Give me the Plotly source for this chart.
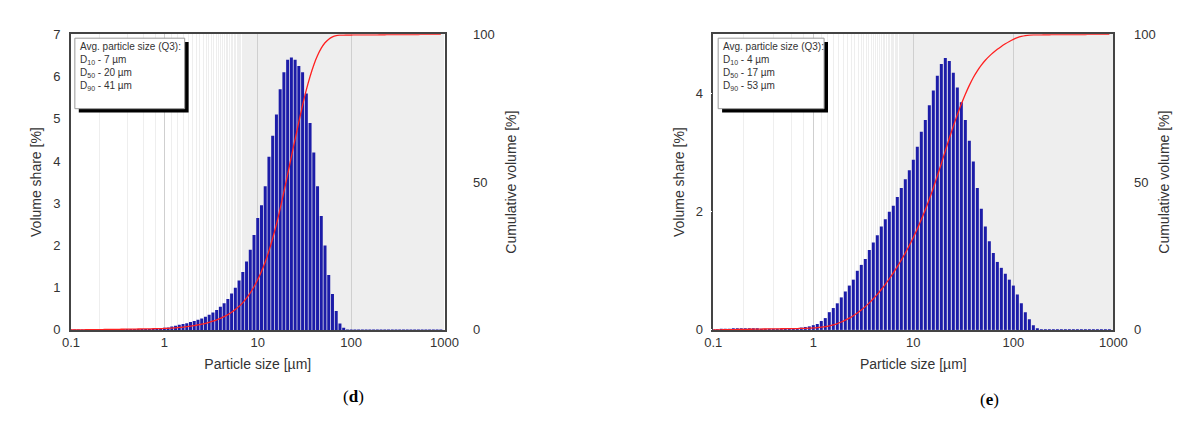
import numpy as np
import plotly.graph_objects as go

# bin centres: 25 bins per decade, 0.1 .. 1000 um
bin_exp = np.arange(100) / 25.0 - 1.0
sizes = 10 ** bin_exp

# (d) volume share per bin [%]
share_d = [
    0.01, 0.01, 0.01, 0.01, 0.01, 0.02, 0.02, 0.02, 0.02, 0.02, 0.02, 0.02, 0.02,
    0.02, 0.02, 0.02, 0.02, 0.02, 0.02, 0.02, 0.02, 0.02, 0.03, 0.03, 0.03,
    0.05, 0.06, 0.08, 0.10, 0.12, 0.14, 0.16, 0.19, 0.21, 0.24, 0.27, 0.31, 0.36,
    0.41, 0.47, 0.55, 0.63, 0.73, 0.86, 1.00, 1.17, 1.37, 1.62, 1.90, 2.25,
    2.65, 2.95, 3.40, 4.10, 4.60, 5.10, 5.70, 6.10, 6.40, 6.45, 6.40, 6.25, 6.10,
    5.60, 4.90, 4.20, 3.40, 2.70, 2.00, 1.30, 0.85, 0.45, 0.15, 0.05, 0.01,
] + [0.01] * 25

# (e) volume share per bin [%]
share_e = [
    0.01, 0.01, 0.02, 0.02, 0.02, 0.03, 0.03, 0.03, 0.03, 0.03, 0.03, 0.03, 0.02,
    0.02, 0.02, 0.02, 0.02, 0.02, 0.02, 0.02, 0.02, 0.03, 0.04, 0.05, 0.06,
    0.08, 0.10, 0.15, 0.20, 0.30, 0.37, 0.45, 0.55, 0.65, 0.75, 0.85, 1.00, 1.10,
    1.20, 1.35, 1.48, 1.60, 1.75, 1.87, 2.00, 2.10, 2.25, 2.40, 2.55, 2.70,
    2.88, 3.10, 3.35, 3.55, 3.80, 4.05, 4.30, 4.50, 4.60, 4.55, 4.35, 4.10, 3.85,
    3.55, 3.20, 2.85, 2.40, 2.05, 1.75, 1.50, 1.30, 1.15, 1.05, 0.95, 0.85,
    0.75, 0.60, 0.45, 0.30, 0.18, 0.08, 0.03,
] + [0.01] * 18

legend_d = "Avg. particle size (Q3):<br>D<sub>10</sub> - 7 µm<br>D<sub>50</sub> - 20 µm<br>D<sub>90</sub> - 41 µm"
legend_e = "Avg. particle size (Q3):<br>D<sub>10</sub> - 4 µm<br>D<sub>50</sub> - 17 µm<br>D<sub>90</sub> - 53 µm"

FONT = "Liberation Sans, Arial, sans-serif"
BAR_COLOR = "#1c1ca8"
W, H = 1189, 441
y_dom = [1 - 326 / H, 1 - 20 / H]


def px(v):
    return v / W


def bar_trace(share, xa, ya):
    xs, ys = [], []
    for x, v in zip(sizes, share):
        xs += [x, x, None]
        ys += [0, v, None]
    return go.Scatter(x=xs, y=ys, mode="lines", line=dict(color=BAR_COLOR, width=3),
                      xaxis=xa, yaxis=ya, showlegend=False, hoverinfo="skip")


def cum_trace(share, xa, ya):
    c = np.cumsum(share)
    c = 100 * c / c[-1]
    return go.Scatter(x=sizes, y=c, mode="lines", line=dict(color="#ff2020", width=1.3, shape="spline"),
                      xaxis=xa, yaxis=ya, showlegend=False)


fig = go.Figure([
    bar_trace(share_d, "x", "y"), cum_trace(share_d, "x", "y2"),
    bar_trace(share_e, "x3", "y3"), cum_trace(share_e, "x3", "y4"),
])

xcommon = dict(type="log", range=[-1, 3], tickvals=[0.1, 1, 10, 100, 1000],
               ticktext=["0.1", "1", "10", "100", "1000"], showgrid=True,
               gridcolor="#cfcfcf", gridwidth=1, ticks="", showline=True,
               linecolor="#444", linewidth=1.5, mirror=True, zeroline=False,
               minor=dict(showgrid=True, gridcolor="#eeeeee", gridwidth=1, ticks=""),
               title=dict(text="Particle size [µm]", font=dict(size=14), standoff=10),
               tickfont=dict(size=13))
ycommon = dict(showgrid=False, zeroline=False, ticks="outside", ticklen=6, tickcolor="white",
               showline=True, linecolor="#444", linewidth=1.5, mirror=True,
               tickfont=dict(size=13), title=dict(font=dict(size=14), standoff=8))
y2common = dict(range=[0, 100], tickvals=[0, 50, 100], showgrid=False, zeroline=False,
                ticks="", showline=False, tickfont=dict(size=13), side="right",
                anchor="free", title=dict(font=dict(size=14), standoff=12))

fig.update_layout(
    width=W, height=H, margin=dict(l=0, r=0, t=0, b=0),
    paper_bgcolor="white", plot_bgcolor="white",
    font=dict(family=FONT, color="#333"),
    xaxis=dict(xcommon, domain=[px(55), px(436)], anchor="y"),
    yaxis=dict(ycommon, domain=y_dom, range=[0, 7], dtick=1, anchor="x",
               title=dict(ycommon["title"], text="Volume share [%]")),
    yaxis2=dict(y2common, overlaying="y", position=px(464),
                title=dict(y2common["title"], text="Cumulative volume [%]")),
    xaxis3=dict(xcommon, domain=[px(710), px(1118)], anchor="y3"),
    yaxis3=dict(ycommon, domain=y_dom, range=[0, 5], tickvals=[0, 2, 4], anchor="x3",
                title=dict(ycommon["title"], text="Volume share [%]")),
    yaxis4=dict(y2common, overlaying="y3", position=px(1138),
                title=dict(y2common["title"], text="Cumulative volume [%]", standoff=4)),
)

# legend boxes with drop shadows
for x0, x1 in [(59, 171), (715, 823)]:
    fig.add_shape(type="rect", xref="paper", yref="paper",
                  x0=px(x0 + 4), x1=px(x1 + 4), y0=1 - 101 / H, y1=1 - 28 / H,
                  fillcolor="black", line=dict(width=0))
    fig.add_shape(type="rect", xref="paper", yref="paper",
                  x0=px(x0), x1=px(x1), y0=1 - 97 / H, y1=1 - 24 / H,
                  fillcolor="white", line=dict(color="#999", width=1))
for x0, txt in [(59, legend_d), (715, legend_e)]:
    fig.add_annotation(xref="paper", yref="paper", x=px(x0 + 3), y=1 - 25 / H,
                       xanchor="left", yanchor="top", align="left", showarrow=False,
                       text=txt, font=dict(size=10, color="#333"))

fig.add_annotation(xref="paper", yref="paper", x=px(330), y=1 - 407 / H, showarrow=False,
                   text="(<b>d</b>)", font=dict(size=17, color="black", family="Liberation Serif, serif"))
fig.add_annotation(xref="paper", yref="paper", x=px(1003), y=1 - 410 / H, showarrow=False,
                   text="(<b>e</b>)", font=dict(size=17, color="black", family="Liberation Serif, serif"))

fig.write_html("out.html")
